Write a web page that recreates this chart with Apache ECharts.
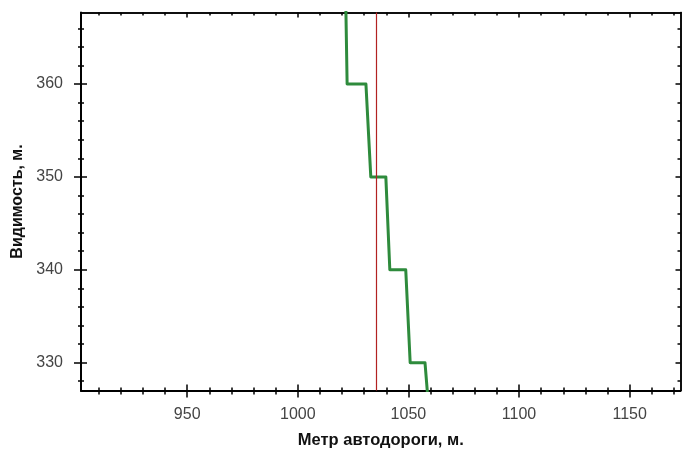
<!DOCTYPE html>
<html>
<head>
<meta charset="utf-8">
<script src="https://cdn.jsdelivr.net/npm/echarts@6/dist/echarts.min.js"></script>
<style>
html, body { margin: 0; padding: 0; background: #fff; }
#chart { width: 695px; height: 454px; }
</style>
</head>
<body>
<div id="chart"></div>
<script>
// данные: ступенчатая кривая видимости
const roadMeters = [1021.6, 1022.3, 1030.8, 1033.0, 1039.8, 1041.6, 1048.8, 1050.8, 1057.5, 1059.2];
const visibility = [370, 360, 360, 350, 350, 340, 340, 330, 330, 325];
const markerMeter = 1035.3;

// деления осей
const xMajor = [950, 1000, 1050, 1100, 1150];
const xMinor = [910, 920, 930, 940, 960, 970, 980, 990, 1010, 1020, 1030, 1040,
    1060, 1070, 1080, 1090, 1110, 1120, 1130, 1140, 1160, 1170];
const yMajor = [330, 340, 350, 360];
const yMinor = [328, 332, 334, 336, 338, 342, 344, 346, 348, 352, 354, 356, 358, 362, 364, 366];

const xMin = 902, xMax = 1173;
const yMin = 327, yMax = 367.7;

const font = '"Liberation Sans", Arial, sans-serif';
const lineCol = '#000';

// вспомогательная ось: только штрихи
function tickAxis(pos, min, max, vals, inside, len, extra) {
    return Object.assign({
        type: 'value',
        position: pos,
        min: min,
        max: max,
        axisLine: { show: true, onZero: false, lineStyle: { color: lineCol, width: 1.5 } },
        axisTick: { show: true, inside: inside, length: len, customValues: vals, lineStyle: { color: lineCol, width: 1.5 } },
        axisLabel: { show: false },
        splitLine: { show: false }
    }, extra || {});
}

function plain(v) { return String(v); }

const myChart = echarts.init(document.getElementById('chart'));

const option = {
    animation: false,
    backgroundColor: '#fff',
    grid: { left: 81, top: 12.5, right: 14.5, bottom: 63.5 },
    xAxis: [
        tickAxis('bottom', xMin, xMax, xMajor, false, 7, {
            name: 'Метр автодороги, м.',
            nameLocation: 'middle',
            nameGap: 41,
            nameTextStyle: { fontFamily: font, fontSize: 16.5, fontWeight: 'bold', color: '#111' },
            axisLabel: { show: true, customValues: xMajor, formatter: plain, margin: 16, fontFamily: font, fontSize: 16, color: '#444' }
        }),
        tickAxis('bottom', xMin, xMax, xMajor, true, 6),
        tickAxis('bottom', xMin, xMax, xMinor, false, 4),
        tickAxis('bottom', xMin, xMax, xMinor, true, 3),
        tickAxis('top', xMin, xMax, xMajor, true, 5),
        tickAxis('top', xMin, xMax, xMinor, true, 3)
    ],
    yAxis: [
        tickAxis('left', yMin, yMax, yMajor, false, 7, {
            name: 'Видимость, м.',
            nameLocation: 'middle',
            nameGap: 55,
            nameTextStyle: { fontFamily: font, fontSize: 16, fontWeight: 'bold', color: '#111' },
            axisLabel: { show: true, customValues: yMajor, formatter: plain, margin: 18, fontFamily: font, fontSize: 16, color: '#444' }
        }),
        tickAxis('left', yMin, yMax, yMajor, true, 6),
        tickAxis('left', yMin, yMax, yMinor, false, 3),
        tickAxis('left', yMin, yMax, yMinor, true, 3),
        tickAxis('right', yMin, yMax, yMajor, true, 5),
        tickAxis('right', yMin, yMax, yMinor, true, 3)
    ],
    series: [{
        type: 'line',
        xAxisIndex: 0,
        yAxisIndex: 0,
        data: roadMeters.map(function (m, i) { return [m, visibility[i]]; }),
        showSymbol: false,
        clip: true,
        lineStyle: { color: '#2e8b3c', width: 3, cap: 'round', join: 'round' },
        markLine: {
            silent: true,
            symbol: ['none', 'none'],
            label: { show: false },
            lineStyle: { color: '#b22222', width: 1.2, type: 'solid' },
            data: [{ xAxis: markerMeter }]
        }
    }]
};

myChart.setOption(option);
</script>
</body>
</html>
